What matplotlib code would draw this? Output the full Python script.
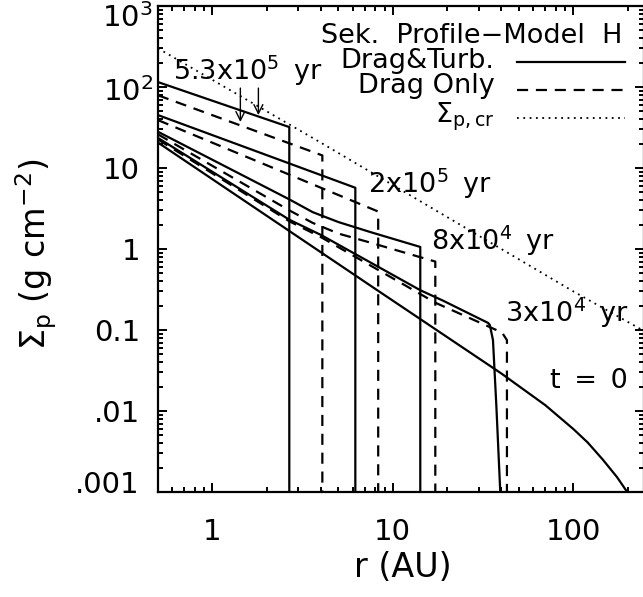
import numpy as np
import matplotlib.pyplot as plt
from matplotlib.ticker import FixedLocator, LogLocator, NullFormatter, FixedFormatter

plt.rcParams['font.family'] = ['DejaVu Sans']
plt.rcParams['mathtext.fontset'] = 'dejavusans'

# radius (AU) and surface density (g cm^-2)
r_t0 = [0.5, 8.2, 40, 70, 100, 120, 146, 175, 199]
sig_t0 = [20.6, 0.31, 0.029, 0.0118, 0.006, 0.0041, 0.0025, 0.00152, 0.001]

r_3e4_turb = [0.5, 2.67, 4.0, 14.2, 19.0, 33.8, 34.5, 35.9, 37.5, 39.4]
sig_3e4_turb = [23.5, 2.3, 1.49, 0.31, 0.23, 0.122, 0.115, 0.075, 0.0113, 0.001]
r_3e4_drag = [0.5, 2.67, 4.0, 17.3, 40.3, 42.9, 42.9]
sig_3e4_drag = [22.5, 2.2, 1.4, 0.216, 0.093, 0.075, 0.001]

r_8e4_turb = [0.5, 2.67, 3.6, 5.0, 7.5, 14.2, 14.2]
sig_8e4_turb = [28, 4.1, 2.85, 2.15, 1.62, 1.06, 0.001]
r_8e4_drag = [0.5, 2.67, 3.6, 5.0, 7.5, 16.1, 17.2, 17.2]
sig_8e4_drag = [26, 3.0, 2.1, 1.55, 1.2, 0.73, 0.70, 0.001]

r_2e5_turb = [0.5, 6.2, 6.2]
sig_2e5_turb = [45, 5.7, 0.001]
r_2e5_drag = [0.5, 8.3, 8.3]
sig_2e5_drag = [39, 2.9, 0.001]

r_53e5_turb = [0.5, 2.67, 2.67]
sig_53e5_turb = [115, 32, 0.001]
r_53e5_drag = [0.5, 4.07, 4.07]
sig_53e5_drag = [79, 14.3, 0.001]

r_crit = [0.5, 4.0, 100, 245]
sig_crit = [300, 20.5, 0.30, 0.098]

turb_runs = [(r_t0, sig_t0), (r_3e4_turb, sig_3e4_turb), (r_8e4_turb, sig_8e4_turb),
             (r_2e5_turb, sig_2e5_turb), (r_53e5_turb, sig_53e5_turb)]
drag_runs = [(r_3e4_drag, sig_3e4_drag), (r_8e4_drag, sig_8e4_drag),
             (r_2e5_drag, sig_2e5_drag), (r_53e5_drag, sig_53e5_drag)]

y_major = [1e-3, 1e-2, 1e-1, 1, 10, 100, 1000]
y_labels = ['', '.01', '0.1', '1', '10', '', '']   # end labels drawn by hand below
x_major = [1, 10, 100]
x_labels = ['1', '10', '100']

dash = (0, (5, 3.5))
dots = (0, (1, 2.5))
lw = 1.6
sp2 = '\u2002'  # wide IDL-like gap

fig = plt.figure(figsize=(6.43, 5.97), dpi=100)
ax = fig.add_axes([158 / 643, 105 / 597, 485.5 / 643, 486 / 597])

for r, s in turb_runs:
    ax.plot(r, s, color='k', lw=lw)
for r, s in drag_runs:
    ax.plot(r, s, color='k', lw=lw, linestyle=dash)
ax.plot(r_crit, sig_crit, color='k', lw=1.3, linestyle=dots)

ax.set_xscale('log')
ax.set_yscale('log')
ax.set_xlim(0.5, 245)
ax.set_ylim(1e-3, 1e3)

ax.xaxis.set_major_locator(FixedLocator(x_major))
ax.xaxis.set_major_formatter(FixedFormatter(x_labels))
ax.xaxis.set_minor_locator(LogLocator(base=10, subs=np.arange(2, 10)))
ax.xaxis.set_minor_formatter(NullFormatter())
ax.yaxis.set_major_locator(FixedLocator(y_major))
ax.yaxis.set_major_formatter(FixedFormatter(y_labels))
ax.yaxis.set_minor_locator(LogLocator(base=10, subs=np.arange(2, 10)))
ax.yaxis.set_minor_formatter(NullFormatter())

ax.tick_params(which='both', direction='in', top=True, right=True, width=1.4)
ax.tick_params(which='major', length=6.5)
ax.tick_params(which='minor', length=3.6)
ax.tick_params(axis='x', which='major', pad=19, labelsize=21)
ax.tick_params(axis='y', which='major', pad=13, labelsize=21)
for sp in ax.spines.values():
    sp.set_linewidth(1.6)

# IDL-style end labels, nudged inside the axis range
ax.text(-0.0104, 0.957, r'10$^3$', fontsize=21, ha='right', va='baseline', transform=ax.transAxes)
ax.text(-0.0104, 0.8045, r'10$^2$', fontsize=21, ha='right', va='baseline', transform=ax.transAxes)
ax.text(-0.0373, -0.002, '.001', fontsize=21, ha='right', va='baseline', transform=ax.transAxes)

ax.set_xlabel('r (AU)', fontsize=24)
ax.xaxis.set_label_coords(0.505, -0.121)
ax.text(-0.25, 0.49, r'$\Sigma_{\rm p}$ (g cm$^{-2}$)', fontsize=24, rotation=90,
        ha='center', va='center', transform=ax.transAxes)

# curve labels
fs = 19.5
ax.text(0.031, 0.848, r'5.3x10$^5$' + sp2 + 'yr', fontsize=fs, transform=ax.transAxes, va='baseline')
ax.text(0.433, 0.615, r'2x10$^5$' + sp2 + 'yr', fontsize=fs, transform=ax.transAxes, va='baseline')
ax.text(0.563, 0.498, r'8x10$^4$' + sp2 + 'yr', fontsize=fs, transform=ax.transAxes, va='baseline')
ax.text(0.714, 0.350, r'3x10$^4$' + sp2 + 'yr', fontsize=fs, transform=ax.transAxes, va='baseline')
ax.text(0.807, 0.214, 't' + sp2 + '=' + sp2 + '0', fontsize=fs, transform=ax.transAxes, va='baseline')

arrow = dict(arrowstyle='->', color='k', lw=1.0, mutation_scale=16, shrinkA=0, shrinkB=0)
ax.annotate('', xy=(1.43, 37), xytext=(1.43, 97), arrowprops=arrow)
ax.annotate('', xy=(1.80, 45), xytext=(1.80, 97), arrowprops=arrow)

# legend block
ax.text(0.9565, 0.924, 'Sek.  Profile\u2212Model  H', fontsize=fs, ha='right', va='baseline',
        transform=ax.transAxes)
leg_items = [('Drag&Turb.', '-', lw, 0.872, 0.885),
             ('Drag Only', dash, lw, 0.821, 0.827),
             (r'$\Sigma_{\rm p,cr}$', dots, 1.3, 0.761, 0.770)]
for label, ls, w, ty, ly in leg_items:
    ax.text(0.6936, ty, label, fontsize=fs, ha='right', va='baseline', transform=ax.transAxes)
    ax.plot([0.739, 0.961], [ly, ly], color='k', lw=w, linestyle=ls, transform=ax.transAxes)

fig.savefig('out.png', dpi=100)
